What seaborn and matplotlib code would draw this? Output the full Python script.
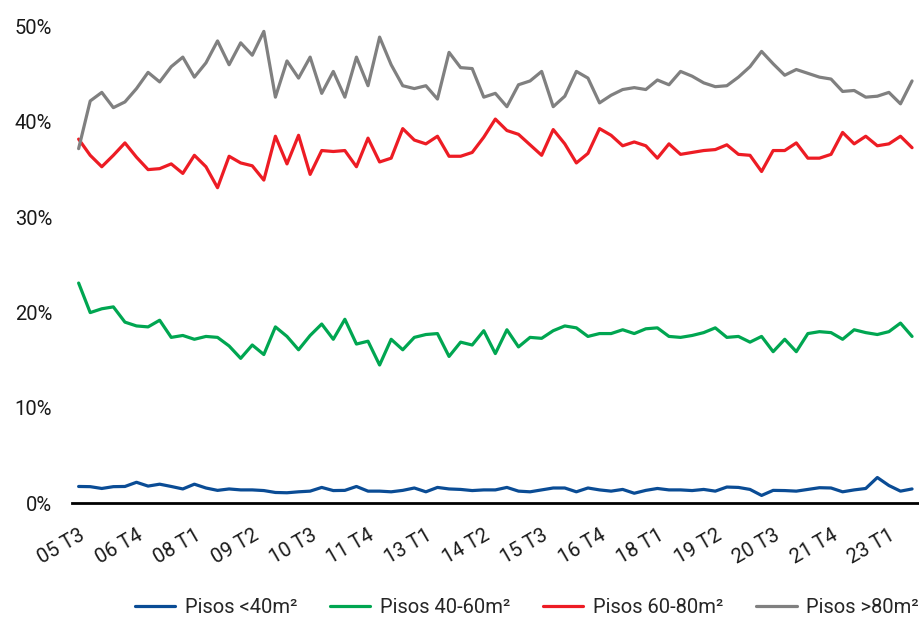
import matplotlib
matplotlib.use("Agg")
import matplotlib.pyplot as plt
import numpy as np
import pandas as pd
import seaborn as sns

# Quarterly share of flats by floor area (%), 2005 Q3 to 2023 Q3
start_year, start_q, n_quarters = 2005, 3, 73
quarters = []
y, q = start_year, start_q
for _ in range(n_quarters):
    quarters.append(f"{y % 100:02d} T{q}")
    q += 1
    if q > 4:
        q, y = 1, y + 1

pisos_lt40 = [1.76, 1.74, 1.55, 1.74, 1.76, 2.2, 1.8, 2.0, 1.76, 1.5,
              2.0, 1.6, 1.35, 1.5, 1.4, 1.4, 1.33, 1.13, 1.1, 1.2,
              1.27, 1.66, 1.33, 1.35, 1.76, 1.27, 1.27, 1.2, 1.35, 1.6,
              1.2, 1.66, 1.5, 1.45, 1.33, 1.4, 1.4, 1.66, 1.27, 1.2,
              1.4, 1.6, 1.6, 1.2, 1.6, 1.4, 1.27, 1.45, 1.05, 1.35,
              1.55, 1.4, 1.4, 1.33, 1.45, 1.27, 1.7, 1.66, 1.45, 0.82,
              1.35, 1.33, 1.27, 1.45, 1.63, 1.6, 1.2, 1.4, 1.55, 2.7,
              1.86, 1.27, 1.5]

pisos_40_60 = [23.1, 20.0, 20.4, 20.6, 19.0, 18.6, 18.5, 19.2, 17.4, 17.6,
               17.2, 17.5, 17.4, 16.5, 15.2, 16.6, 15.6, 18.5, 17.5, 16.1,
               17.6, 18.8, 17.2, 19.3, 16.7, 17.0, 14.5, 17.2, 16.1, 17.4,
               17.7, 17.8, 15.4, 16.9, 16.6, 18.1, 15.7, 18.2, 16.4, 17.4,
               17.3, 18.1, 18.6, 18.4, 17.5, 17.8, 17.8, 18.2, 17.8, 18.3,
               18.4, 17.5, 17.4, 17.6, 17.9, 18.4, 17.4, 17.5, 16.9, 17.5,
               15.9, 17.2, 15.9, 17.8, 18.0, 17.9, 17.2, 18.2, 17.9, 17.7,
               18.0, 18.9, 17.5]

pisos_60_80 = [38.2, 36.5, 35.3, 36.5, 37.8, 36.3, 35.0, 35.1, 35.6, 34.6,
               36.5, 35.3, 33.1, 36.4, 35.7, 35.4, 33.9, 38.5, 35.6, 38.6,
               34.5, 37.0, 36.9, 37.0, 35.3, 38.3, 35.8, 36.2, 39.3, 38.1,
               37.7, 38.5, 36.4, 36.4, 36.8, 38.4, 40.3, 39.1, 38.7, 37.6,
               36.5, 39.2, 37.7, 35.7, 36.7, 39.3, 38.6, 37.5, 37.9, 37.5,
               36.2, 37.7, 36.6, 36.8, 37.0, 37.1, 37.6, 36.6, 36.5, 34.8,
               37.0, 37.0, 37.8, 36.2, 36.2, 36.6, 38.9, 37.7, 38.5, 37.5,
               37.7, 38.5, 37.3]

pisos_gt80 = [37.2, 42.2, 43.1, 41.5, 42.1, 43.5, 45.2, 44.2, 45.8, 46.8,
              44.7, 46.2, 48.5, 46.0, 48.3, 47.0, 49.5, 42.6, 46.4, 44.6,
              46.8, 43.0, 45.3, 42.6, 46.8, 43.8, 48.9, 46.0, 43.8, 43.5,
              43.8, 42.4, 47.3, 45.7, 45.6, 42.6, 43.0, 41.6, 43.9, 44.3,
              45.3, 41.6, 42.7, 45.3, 44.6, 42.0, 42.8, 43.4, 43.6, 43.4,
              44.4, 43.9, 45.3, 44.8, 44.1, 43.7, 43.8, 44.7, 45.8, 47.4,
              46.1, 44.9, 45.5, 45.1, 44.7, 44.5, 43.2, 43.3, 42.6, 42.7,
              43.1, 41.9, 44.3]

series_names = ["Pisos <40m²", "Pisos 40-60m²", "Pisos 60-80m²", "Pisos >80m²"]
series_colors = ["#0A4C95", "#00A651", "#ED1C24", "#808080"]
y_ticks = [0, 10, 20, 30, 40, 50]

df = pd.DataFrame({
    "idx": np.tile(np.arange(n_quarters), 4),
    "valor": pisos_lt40 + pisos_40_60 + pisos_60_80 + pisos_gt80,
    "serie": np.repeat(series_names, n_quarters),
})

sns.set_theme(style="white")
plt.rcParams["font.family"] = ["Roboto", "DejaVu Sans"]

FS = 14.5
fig = plt.figure(figsize=(9.19, 6.19), dpi=100)
ax = fig.add_axes([0.078, 0.187, 0.922, 0.770])

sns.lineplot(data=df, x="idx", y="valor", hue="serie", hue_order=series_names,
             palette=series_colors, linewidth=2.3, ax=ax, legend=True)

ax.set_xlim(-0.6, n_quarters - 0.4)
ax.set_ylim(0, 50)
ax.set_yticks(y_ticks)
ax.set_yticklabels([f"{v}%" for v in y_ticks], fontsize=FS, color="#1a1a1a")
tick_pos = list(range(0, n_quarters, 5))
ax.set_xticks(tick_pos)
ax.set_xticklabels([quarters[i] for i in tick_pos], rotation=30, ha="right",
                   rotation_mode="anchor", fontsize=FS, color="#1a1a1a")
ax.tick_params(axis="x", length=0, pad=16)
ax.tick_params(axis="y", length=0, pad=14)
ax.set_xlabel("")
ax.set_ylabel("")

for side in ["left", "right", "top"]:
    ax.spines[side].set_visible(False)
ax.spines["bottom"].set_color("black")
ax.spines["bottom"].set_linewidth(2)

handles, labels = ax.get_legend_handles_labels()
ax.get_legend().remove()
fig.legend(handles, labels, loc="center right", bbox_to_anchor=(1.0, 0.018),
           ncol=4, frameon=False, fontsize=FS, handlelength=2.0,
           handletextpad=0.48, columnspacing=1.64, borderpad=0,
           borderaxespad=0)

fig.savefig("out.png", dpi=100)
